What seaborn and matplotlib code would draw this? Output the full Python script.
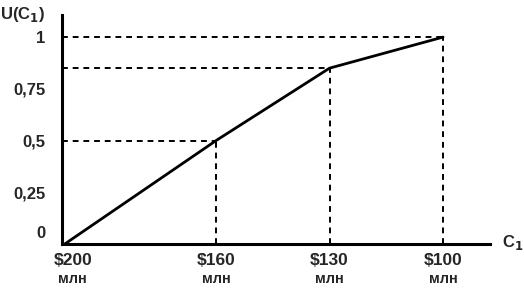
import matplotlib
matplotlib.use("Agg")
import matplotlib.pyplot as plt
import matplotlib.transforms as mtransforms
import seaborn as sns
import pandas as pd

wealth = [200, 160, 130, 100]
utility = [0.0, 0.5, 0.85, 1.0]
ytick_vals = [0, 0.25, 0.5, 0.75, 1]
ytick_labels = ["0", "0,25", "0,5", "0,75", "1"]
xtick_labels = ["$200", "$160", "$130", "$100"]
unit_label = "млн"

sns.set_style("white")
plt.rcParams['font.family'] = ['Liberation Sans', 'DejaVu Sans']

df = pd.DataFrame({"C1": wealth, "U": utility})

fig = plt.figure(figsize=(5.24, 2.88), dpi=100)
ax = fig.add_axes([0.118, 0.153, 0.817, 0.795])

sns.lineplot(data=df, x="C1", y="U", ax=ax, color="black", linewidth=2)

for xv, yv in zip(wealth[1:], utility[1:]):
    ax.plot([xv, xv], [0, yv], linestyle=(0, (3, 2.5)), color="black", linewidth=1.4)
    ax.plot([200.8, xv], [yv, yv], linestyle=(0, (3, 2.5)), color="black", linewidth=1.4)

ax.set_xlim(200.8, 87.6)
ax.set_ylim(0, 1.107)
ax.set_xticks(wealth)
ax.set_xticklabels(xtick_labels, fontsize=12.5, fontweight="bold")
ax.set_yticks(ytick_vals)
ax.set_yticklabels(ytick_labels, fontsize=12, fontweight="bold")
ax.tick_params(axis="y", length=6, width=1.5, color="black", direction="out", pad=6)
ax.tick_params(axis="x", length=5, width=1.5, color="black", direction="inout", pad=4)

# shift first x label slightly right and "0" label upward like the reference
for lab in ax.get_xticklabels():
    if lab.get_text() == "$200":
        lab.set_transform(lab.get_transform() + mtransforms.ScaledTranslation(8/100, 0, fig.dpi_scale_trans))
for lab in ax.get_yticklabels():
    if lab.get_text() == "0":
        lab.set_transform(lab.get_transform() + mtransforms.ScaledTranslation(0, 12/100, fig.dpi_scale_trans))

trans = mtransforms.blended_transform_factory(ax.transData, fig.transFigure)
for i, xv in enumerate(wealth):
    dx = 8 if i == 0 else 0
    ax.text(xv, 1 - 279/288, unit_label, transform=trans + mtransforms.ScaledTranslation(dx/100, 0, fig.dpi_scale_trans),
            fontsize=10.5, fontweight="bold", ha="center", va="center")

for s in ["top", "right"]:
    ax.spines[s].set_visible(False)
for s in ["left", "bottom"]:
    ax.spines[s].set_linewidth(2.2)
    ax.spines[s].set_color("black")
ax.set_xlabel("")
ax.set_ylabel("")
fig.text(0.0, 1 - 14/288, "U(C$_\\mathbf{1}$)", fontsize=12, fontweight="bold", va="center", ha="left")
fig.text(502/524, 1 - 242/288, "C$_\\mathbf{1}$", fontsize=12, fontweight="bold", va="center", ha="left")
ax.grid(False)

fig.savefig("out.png", dpi=100)
